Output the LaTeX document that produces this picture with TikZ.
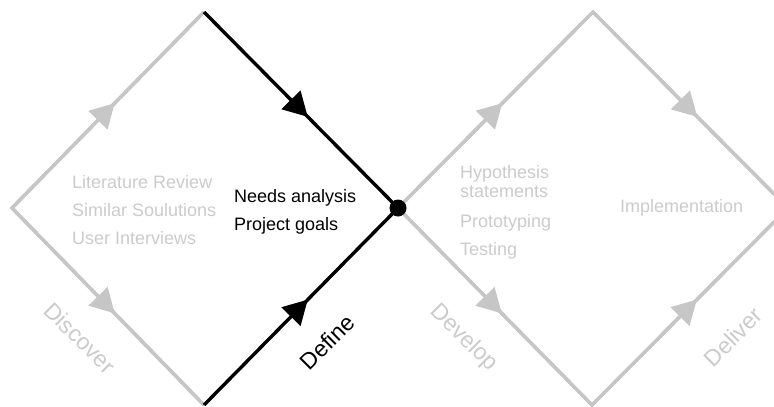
\documentclass[tikz,border=0pt]{standalone}
\usepackage{fontspec}
\setmainfont{Liberation Sans}
\usetikzlibrary{arrows.meta,decorations.markings}
\definecolor{pale}{HTML}{C6C6C6}
\definecolor{paletext}{HTML}{CBCBCB}
\begin{document}
\begin{tikzpicture}[x=1pt,y=-1pt,
  edge/.style={line width=3.4pt, line join=miter},
  flow/.style={postaction={decorate},
    decoration={markings, mark=at position 0.535 with
      {\arrow{Triangle[length=24pt,width=26pt]}}}},
  note/.style={inner sep=0pt, anchor=base west, font=\fontsize{18}{21}\selectfont},
  phase/.style={inner sep=0pt, font=\fontsize{23}{27}\selectfont}]
\useasboundingbox (0,0) rectangle (774,407);
\clip (0,0) rectangle (774,407);

% diamond corners
\coordinate (W1) at (12,208);
\coordinate (T1) at (204,12);
\coordinate (E1) at (398,208);
\coordinate (B1) at (204,405);
\coordinate (T2) at (593,12);
\coordinate (E2) at (788,208);
\coordinate (B2) at (592,405);

% pale outlines
\draw[edge, pale] (T1) -- (W1) -- (B1);
\draw[edge, pale] (B2) -- (E1) -- (T2) -- (E2) -- cycle;
\draw[edge, pale, flow] (W1) -- (T1);
\draw[edge, pale, flow] (W1) -- (B1);
\draw[edge, pale, flow] (E1) -- (T2);
\draw[edge, pale, flow] (T2) -- (E2);
\draw[edge, pale, flow] (E1) -- (B2);
\draw[edge, pale, flow] (B2) -- (E2);

% highlighted path
\draw[edge, black, flow] (T1) -- (E1);
\draw[edge, black, flow] (B1) -- (E1);
\node[circle, fill=black, minimum size=17pt, inner sep=0pt] (hub) at (E1) {};

% stage contents
\node[note, paletext] (lit) at (72,188) {Literature Review};
\node[note, paletext] (sim) at (72,216) {Similar Soulutions};
\node[note, paletext] (usr) at (72,244) {User Interviews};
\node[note, black] (needs) at (234,202) {Needs analysis};
\node[note, black] (goals) at (234,230) {Project goals};
\node[note, paletext] (hyp) at (460,178) {Hypothesis};
\node[note, paletext] (stm) at (460,197) {statements};
\node[note, paletext] (proto) at (460,227) {Prototyping};
\node[note, paletext] (test) at (460,255) {Testing};
\node[note, paletext] (impl) at (620,212) {Implementation};

% stage names
\node[phase, paletext, rotate=-45] (discover) at (80,338) {Discover};
\node[phase, black, rotate=45] (define) at (327,342) {Define};
\node[phase, paletext, rotate=-45] (develop) at (464,338) {Develop};
\node[phase, paletext, rotate=45] (deliver) at (733,337) {Deliver};
\end{tikzpicture}
\end{document}
